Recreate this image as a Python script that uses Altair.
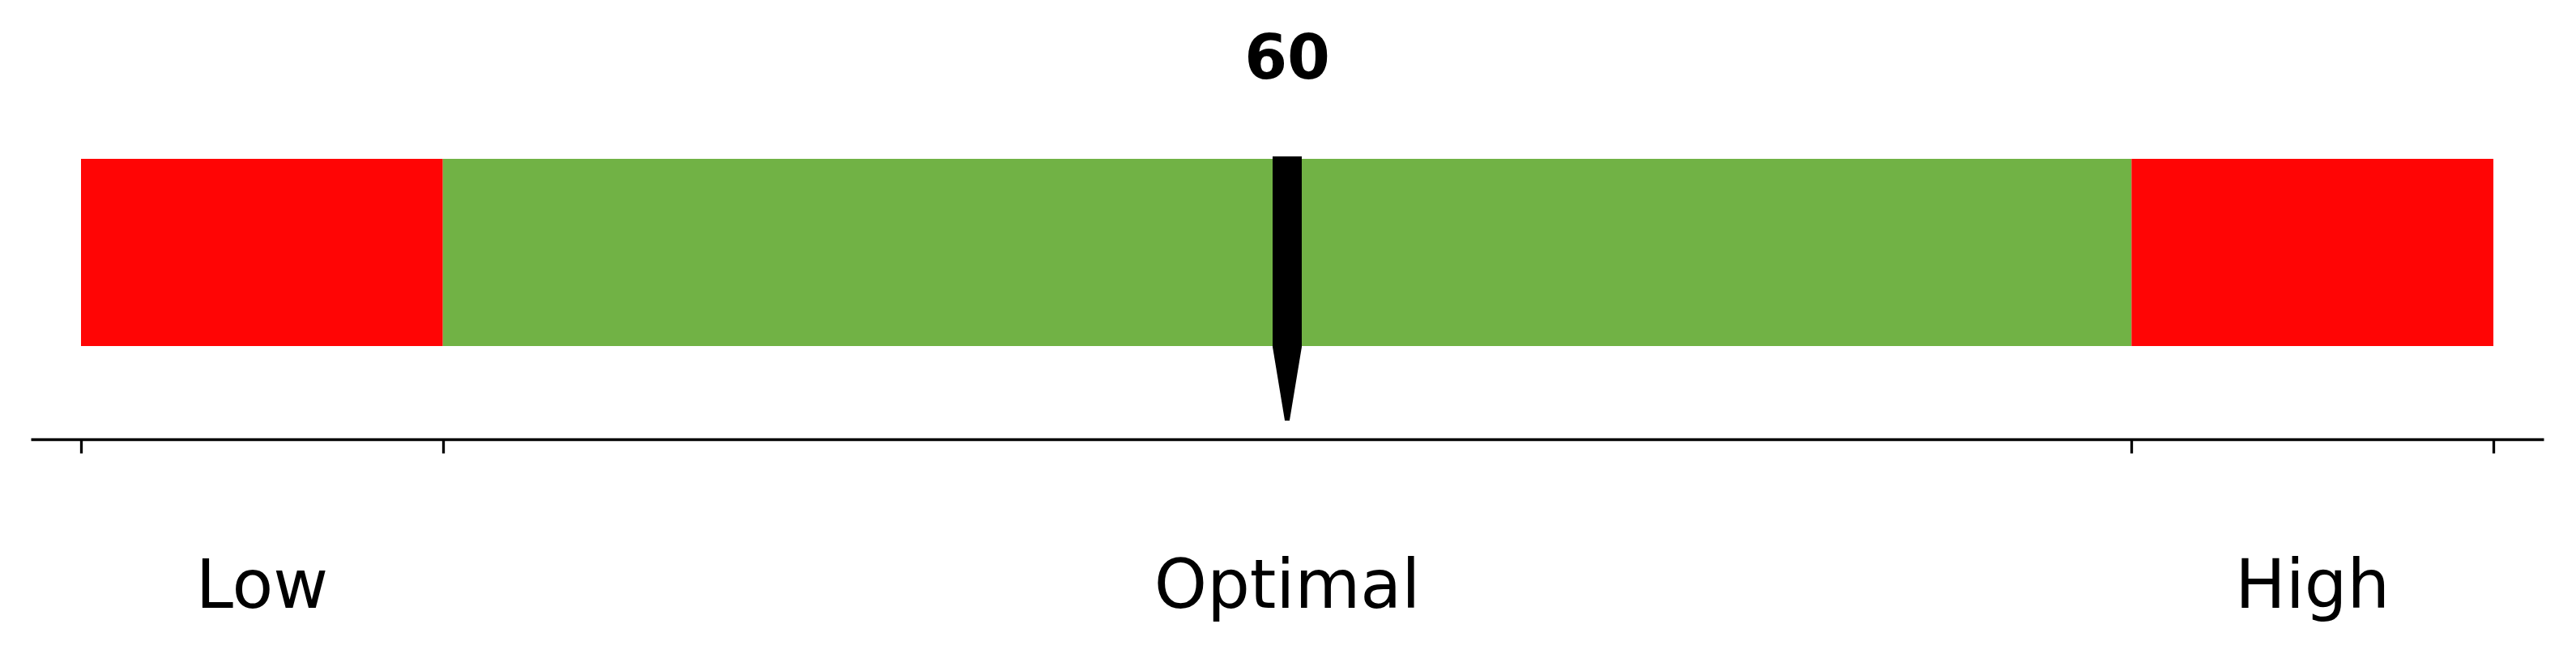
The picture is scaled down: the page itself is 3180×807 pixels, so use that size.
import altair as alt
import pandas as pd

# Data
band_labels = ["Low", "Optimal", "High"]
band_edges = [20, 32, 88, 100]
band_colors = ["#ff0505", "#71b245", "#ff0505"]
value = 60
tick_values = [20, 32, 88, 100]

bands = pd.DataFrame({
    "label": band_labels,
    "start": band_edges[:-1],
    "end": band_edges[1:],
    "color": band_colors,
})
bands["mid"] = (bands["start"] + bands["end"]) / 2
val_df = pd.DataFrame({"value": [value], "text": [str(value)]})

pad = 1.6655
xscale = alt.Scale(domain=[band_edges[0] - pad, band_edges[-1] + pad], nice=False, zero=False)
xaxis = alt.Axis(values=tick_values, labels=False, title=None, grid=False,
                 domainColor="black", domainWidth=3.3, tickColor="black",
                 tickWidth=3.3, tickSize=17, orient="bottom")

bars = alt.Chart(bands).mark_bar(size=10).encode(
    x=alt.X("start:Q", scale=xscale, axis=xaxis),
    x2="end:Q",
    y=alt.value(188),
    y2=alt.value(419),
    color=alt.Color("color:N", scale=None),
)

needle_path = ("M -0.1104 -1 L 0.1104 -1 L 0.1104 0.4417 L 0.018 1 "
               "L -0.018 1 L -0.1104 0.4417 Z")
needle = alt.Chart(val_df).mark_point(
    shape=needle_path, filled=True, color="black", opacity=1, strokeWidth=0, size=326 * 326
).encode(
    x=alt.X("value:Q", scale=xscale),
    y=alt.value(348),
)

val_text = alt.Chart(val_df).mark_text(
    font="DejaVu Sans", fontSize=76, fontWeight="bold", color="black",
    baseline="alphabetic", align="center"
).encode(
    x=alt.X("value:Q", scale=xscale),
    y=alt.value(89),
    text="text:N",
)

band_text = alt.Chart(bands).mark_text(
    font="DejaVu Sans", fontSize=83, color="black",
    baseline="alphabetic", align="center"
).encode(
    x=alt.X("mid:Q", scale=xscale),
    y=alt.value(742),
    text="label:N",
)

chart = alt.layer(bars, needle, val_text, band_text).properties(
    width=3102, height=534,
    autosize=alt.AutoSizeParams(type="none"),
    padding={"left": 30, "top": 0, "right": 30, "bottom": 250},
    background="white",
).configure_view(stroke=None)

chart.save("out.html", embed_options={"renderer": "svg", "actions": False})
